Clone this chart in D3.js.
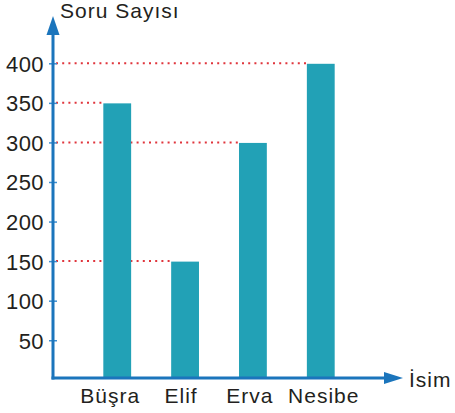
<!DOCTYPE html>
<html><head><meta charset="utf-8">
<script src="https://cdn.jsdelivr.net/npm/d3@7"></script>
<style>
html,body{margin:0;padding:0;background:#fff;}
text{font-family:"Liberation Sans",Arial,sans-serif;fill:#231f20;}
</style></head>
<body><svg id="c" width="455" height="413"></svg>
<script>
const categories = ["Büşra","Elif","Erva","Nesibe"];
const values = [350,150,300,400];
const yTicks = [50,100,150,200,250,300,350,400];
const yTitle = "Soru Sayısı";
const xTitle = "İsim";

const svg = d3.select("#c");
const axisColor = "#1b75bc", barColor = "#22a1b6", dotColor = "#e0353c";
const x0 = 53, yBase = 378;
const font = "'Liberation Sans',Arial,sans-serif";
// small horizontal nudges of category labels (layout only)
const labelNudge = [-7,-4,-3,3];

const y = d3.scaleLinear().domain([0,400]).range([379.8,63.3]);
const x = d3.scaleBand().domain(categories).range([66,372]).paddingInner(0.59).paddingOuter(0.55);

// dotted guide lines
svg.selectAll(".guide").data(categories).enter().append("line")
  .attr("x1", x0+3).attr("x2", d=>x(d))
  .attr("y1", (d,i)=>y(values[i])).attr("y2",(d,i)=>y(values[i]))
  .attr("stroke", dotColor).attr("stroke-width",2).attr("stroke-dasharray","2,4.2");

// bars
svg.selectAll(".bar").data(categories).enter().append("rect")
  .attr("x", d=>x(d)).attr("width", x.bandwidth())
  .attr("y", (d,i)=>y(values[i])+0.5).attr("height",(d,i)=>yBase-y(values[i])-0.5)
  .attr("fill", barColor);

// y axis ticks & labels
const yAxis = d3.axisLeft(y).tickValues(yTicks).tickSize(0).tickPadding(0);
const gy = svg.append("g").attr("transform",`translate(${x0},0)`).call(yAxis);
gy.select(".domain").remove();
gy.selectAll(".tick line").attr("x1",-4).attr("x2",4).attr("stroke","#3d8fd0").attr("stroke-width",1.5);
gy.selectAll(".tick text").attr("x",-9).attr("dy","0.36em")
  .style("font-size","22px").style("letter-spacing","0.4px")
  .style("font-family",font).attr("fill","#231f20");

// x axis labels
const xAxis = d3.axisBottom(x).tickSize(0).tickPadding(0);
const gx = svg.append("g").attr("transform",`translate(0,${yBase})`).call(xAxis);
gx.select(".domain").remove();
gx.selectAll(".tick text").attr("y",25).attr("dy",0)
  .attr("x",(d,i)=>labelNudge[i])
  .style("font-size","21px").style("letter-spacing","1px")
  .style("font-family",font).attr("fill","#231f20");

// axes lines with arrows
svg.append("line").attr("x1",x0).attr("x2",x0).attr("y1",yBase+1.5).attr("y2",30)
  .attr("stroke",axisColor).attr("stroke-width",3);
svg.append("path").attr("d",`M${x0},16 L${x0+6.5},35 L${x0-6.5},35 Z`).attr("fill",axisColor);
svg.append("line").attr("x1",x0-1.5).attr("x2",388).attr("y1",yBase).attr("y2",yBase)
  .attr("stroke",axisColor).attr("stroke-width",3);
svg.append("path").attr("d",`M403,${yBase} L384,${yBase-6} L384,${yBase+6} Z`).attr("fill",axisColor);

// titles
svg.append("text").attr("x",60).attr("y",18).text(yTitle)
  .style("font-size","21px").style("letter-spacing","1px");
svg.append("text").attr("x",409).attr("y",387).text(xTitle)
  .style("font-size","21px").style("letter-spacing","1px");
</script></body></html>
